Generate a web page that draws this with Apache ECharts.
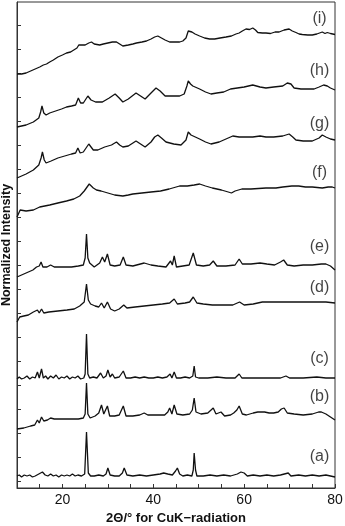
<!DOCTYPE html>
<html>
<head>
<meta charset="utf-8">
<script src="https://cdn.jsdelivr.net/npm/echarts@6/dist/echarts.min.js"></script>
<style>
  html, body { margin: 0; padding: 0; background: #fff; }
  #chart { width: 345px; height: 526px; }
</style>
</head>
<body>
<div id="chart"></div>
<script>
// XRD patterns, stacked; values are normalized intensity incl. stacking offset
const traceA = [[10.0,12],[10.5,13],[11,11],[11.6,13],[12.2,12],[12.8,13],[13.4,11],[14,12],[14.8,14],[15.6,16],[16.2,13],[16.8,12],[17.4,14],[18,12],[18.6,13],[19.2,11],[19.8,13],[20.4,12],[21,13],[21.6,12],[22.2,14],[22.8,12],[23.4,13],[24.2,12],[24.9,14],[25.3,56],[25.7,15],[26.2,12],[27,12],[28,13],[29,12],[29.6,14],[30.0,20],[30.5,13],[31.5,12],[32.5,12],[33.2,15],[33.6,20],[34.2,13],[35.5,12],[37,13],[38.5,12],[40,13],[41.5,14],[42.3,15],[43.2,14],[44.2,13],[44.9,17],[45.3,20],[45.8,14],[46.5,12],[47.5,13],[48.5,12],[48.8,18],[49.0,35],[49.3,18],[49.6,12],[51,12],[52.5,13],[54,12],[55.5,13],[57,12],[58.5,14],[59.3,16],[60,15],[60.7,12],[62,13],[63.5,12],[65,13],[66.5,12],[68,13],[69.7,15],[70.3,12],[72,13],[73.5,12],[75,13],[76.5,12],[78,13],[79,12],[80,11]];
const traceB = [[10.0,59],[11.5,60],[13,62],[13.9,63],[14.5,68],[14.9,65],[15.4,71],[15.9,67],[16.7,68],[17.4,70],[18.2,69],[20,69],[22,69],[23.5,69],[24.6,70],[25.0,74],[25.3,105],[25.6,74],[26.1,70],[27.2,72],[28.0,75],[28.6,83],[29.1,74],[29.5,75],[29.9,82],[30.4,72],[31.5,72],[32.5,73],[33.4,82],[34,72],[35.5,72],[37,73],[38,75],[38.8,73],[40.5,73],[42.5,73],[43.2,76],[43.6,80],[44.1,74],[44.6,83],[45.2,74],[46.5,73],[48,74],[48.6,78],[49.0,90],[49.4,76],[50.5,74],[52,75],[53.2,80],[53.8,74],[54.9,76],[55.7,72],[57,73],[57.7,75],[58.4,78],[58.9,82],[59.6,74],[60.5,73],[62,75],[63,76],[64.5,76],[65.5,75],[66.5,75],[67.5,76],[68.2,79],[68.8,80],[69.5,75],[71,74],[73,73],[75,74],[76.4,76],[77,76],[78,74],[79,71],[80,68]];
const traceC = [[10.0,109],[10.5,111],[11,109],[11.6,110],[12.2,112],[12.8,109],[13.4,111],[14.0,110],[14.5,116],[14.9,110],[15.4,119],[15.8,110],[16.3,112],[16.8,109],[17.4,112],[18,110],[18.6,113],[19.2,109],[19.8,111],[20.4,110],[21,112],[21.6,109],[22.2,111],[22.8,110],[23.4,112],[24,109],[24.7,110],[25.0,114],[25.3,154],[25.6,114],[26,110],[26.8,111],[27.6,110],[28.4,115],[29,110],[29.6,112],[30.0,118],[30.5,111],[31,114],[31.5,110],[32.5,111],[33.4,117],[34,110],[35,110],[36,111],[37,110],[38,111],[39,110],[40,110],[41,111],[42,110],[43,111],[43.7,114],[44.1,110],[44.6,116],[45.1,110],[46,110],[47,111],[48,110],[48.7,112],[49.0,122],[49.3,111],[50,110],[52,110],[54,111],[56,110],[58,110],[58.9,114],[59.5,110],[62,110],[65,110],[68,110],[69.2,112],[70,110],[73,110],[76,111],[78,110],[80,110]];
const traceD = [[10.0,166],[10.6,171],[11.5,172],[12.5,173],[13.6,176],[14.5,178],[14.9,175],[15.4,179],[15.9,175],[17,176],[19,177],[21,178],[22.6,179],[23.8,182],[24.8,186],[25.3,204],[25.7,188],[26.2,184],[27.2,182],[28,181],[28.6,185],[29.2,180],[29.9,186],[30.6,179],[31.5,177],[32.5,179],[33.5,183],[34.2,180],[36,181],[38,182],[40,183],[42,184],[43.6,185],[44.6,189],[45.3,184],[47,185],[48,186],[48.8,191],[49.6,185],[51,184],[53,183],[55,183],[57.5,183],[59,186],[60,183],[62,184],[64,186],[66,186],[68,186],[70,186],[72,186],[74,186],[76,186],[78,186],[80,185]];
const traceE = [[10.0,211],[11.5,214],[12.5,216],[13.5,218],[14.3,221],[14.9,222],[15.3,226],[15.7,221],[16.6,221],[17.4,223],[18.2,221],[20,221],[22,221],[23.5,222],[24.6,223],[25.0,230],[25.3,254],[25.6,230],[26.0,225],[27,221],[28.2,225],[28.8,231],[29.3,226],[29.9,234],[30.5,223],[31.5,222],[32.7,223],[33.4,231],[34,223],[35.5,222],[38,225],[39.5,223],[41,222],[42.8,221],[43.8,227],[44.2,223],[44.6,232],[45.1,221],[46.5,222],[47.9,223],[48.8,235],[49.5,223],[51,222],[52.4,223],[53.2,227],[54,222],[56,222],[58,223],[58.9,229],[59.6,224],[61.5,224],[63.5,225],[65,224],[66.7,223],[68,226],[68.7,228],[69.5,223],[71,222],[73,223],[75,223],[77,224],[78,224],[79,222],[80,218]];
const traceF = [[10.0,271],[10.7,278],[12,277],[13.6,278],[15,281],[17.2,283],[19,285],[20.9,287],[22.5,289],[23.8,292],[24.8,297],[25.9,304],[26.8,300],[27.5,298],[28.5,297],[30,295],[31.5,293],[33.3,292],[34.5,293],[35.5,294],[37.5,295],[39.5,296],[41.6,297],[43.5,299],[45.8,302],[47.5,302],[49,303],[50.2,304],[51.5,302],[53,300],[55,298],[56.5,296],[57.2,295],[58,297],[59.5,299],[61.5,299],[64.8,300],[67,300],[68.5,301],[70.5,302],[72,302],[73.5,301],[75,301],[77.2,300],[78.5,301],[79.4,301],[80,300]];
const traceG = [[10.0,310],[11,312],[12,314],[13.6,318],[14.8,323],[15.3,330],[15.6,336],[16,328],[16.4,325],[17.5,327],[19,330],[20.5,332],[22,334],[22.9,335],[23.4,340],[23.9,335],[24.6,336],[25.8,344],[26.8,338],[27.8,338],[29.3,341],[30.8,343],[31.9,346],[32.6,343],[33.3,341],[34.5,342],[36.2,347],[37.2,344],[38.2,341],[39.5,346],[40.3,351],[41,353],[41.8,350],[42.8,346],[44.5,344],[46.1,343],[47.2,348],[47.7,356],[48.3,353],[48.7,351],[50.2,349],[51.5,346],[52.7,344],[54.5,346],[56,349],[57.5,352],[58.9,351],[60.5,351],[61.9,351],[63.5,352],[64.8,351],[66.5,351],[68.5,352],[69.9,354],[70.7,351],[71.4,348],[73,347],[75,347],[76.5,350],[77.2,353],[78,351],[79,349],[80,348]];
const traceH = [[10.0,361],[11,362],[12,363],[13.6,366],[14.8,370],[15.2,376],[15.5,382],[15.9,375],[16.4,373],[17.2,375],[18.5,377],[19.8,379],[20.9,381],[22,382],[22.9,383],[23.5,390],[24,385],[24.6,385],[25.6,392],[26.3,388],[27.3,386],[28.8,386],[30.3,390],[31.6,394],[32.5,390],[33.3,386],[34.5,389],[36.2,395],[37.2,392],[38.2,389],[39.5,395],[40.6,400],[41.5,397],[42.6,392],[44,392],[45.8,392],[46.8,394],[47.4,402],[47.7,407],[48.2,404],[48.7,402],[50.2,399],[51.5,396],[52.7,394],[54,395],[55.5,396],[57,399],[58.5,400],[60,401],[61.9,403],[63.5,401],[64.8,400],[66.5,401],[68.5,402],[69.5,405],[70.3,404],[71,400],[72.5,399],[74,399],[75.4,399],[76.5,401],[77.5,403],[78.3,402],[79,400],[80,398]];
const traceI = [[10.0,414],[11,414],[12,415],[13,417],[14,419],[15,421],[15.8,423],[16.5,424],[17.2,426],[18,428],[19,431],[20,433],[20.9,435],[21.8,436],[22.5,438],[23.2,440],[23.6,443],[24,441],[25,443],[25.8,445],[26.4,446],[27,444],[28.2,443],[29,444],[30,445],[31,446],[31.9,446],[32.6,444],[33.3,442],[34.5,443],[35.5,444],[36.3,445],[37.5,446],[38.5,447],[39.5,449],[40.3,451],[41,452],[41.8,450],[42.6,448],[43.6,446],[44.7,446],[45.8,446],[46.5,447],[47.2,450],[47.7,457],[48.0,459],[48.5,456],[49.2,454],[50.2,452],[51.3,450],[52.4,449],[53.5,449],[54.7,450],[56,451],[57.2,452],[58.2,454],[58.9,455],[59.6,457],[60.4,459],[61.2,458.5],[61.9,460],[62.5,458],[63,455.5],[64,455],[64.8,455],[65.8,454.5],[66.8,456],[67.7,456],[68.8,458],[69.9,459],[70.6,457],[71.4,455.5],[72.1,454],[72.8,453.5],[74,453],[75,453],[76,454],[77.2,456],[77.8,454.5],[78.3,455.5],[79,454.5],[79.4,454],[80,453.5]];

const traces = [traceA, traceB, traceC, traceD, traceE, traceF, traceG, traceH, traceI];
const traceNames = ['(a)', '(b)', '(c)', '(d)', '(e)', '(f)', '(g)', '(h)', '(i)'];
// where each tag sits, in data units
const tagX = 76.6;
const tagY = [31, 91, 129, 200, 241, 315, 364, 417, 469];
const xTicks = [20, 40, 60, 80];

const font = '"Liberation Sans", Arial, sans-serif';

// left ticks, one every 24 units
const yTickValues = [];
for (let v = 7; v <= 463; v += 24) yTickValues.push(v);

const chart = echarts.init(document.getElementById('chart'), null, { renderer: 'canvas' });

const series = traces.map((t, i) => ({
  name: traceNames[i],
  type: 'line',
  data: t,
  showSymbol: false,
  symbol: 'none',
  lineStyle: { color: '#111', width: 1.3 },
  silent: true
}));

series.push({
  type: 'scatter',
  symbolSize: 0,
  data: tagY.map((y, i) => ({ value: [tagX, y], name: traceNames[i] })),
  label: {
    show: true,
    position: 'inside',
    formatter: p => p.name,
    color: '#111',
    fontSize: 16,
    fontFamily: font
  },
  silent: true
});

chart.setOption({
  animation: false,
  backgroundColor: '#fff',
  grid: {
    left: 17, right: 10, top: 2, bottom: 38,
    show: true, borderColor: '#333', borderWidth: 1,
    containLabel: false, outerBoundsMode: 'none'
  },
  xAxis: {
    type: 'value',
    min: 10, max: 80, interval: 5,
    name: '2Θ/° for CuK−radiation',
    nameLocation: 'middle',
    nameGap: 24,
    nameTextStyle: { fontFamily: font, fontWeight: 'bold', fontSize: 13, color: '#111' },
    axisLine: { show: true, lineStyle: { color: '#333', width: 1 } },
    axisTick: { show: true, inside: true, length: 4, lineStyle: { color: '#333' } },
    axisLabel: {
      margin: 5,
      fontFamily: font, fontSize: 14, color: '#111',
      formatter: v => (xTicks.indexOf(v) >= 0 ? String(v) : '')
    },
    splitLine: { show: false }
  },
  yAxis: {
    type: 'value',
    min: 0, max: 486,
    name: 'Normalized Intensity',
    nameLocation: 'middle',
    nameGap: 4,
    nameTextStyle: { fontFamily: font, fontWeight: 'bold', fontSize: 12.5, color: '#111' },
    axisLine: { show: true, lineStyle: { color: '#333', width: 1 } },
    axisTick: { show: true, inside: true, length: 4, customValues: yTickValues, lineStyle: { color: '#333' } },
    axisLabel: { show: false },
    splitLine: { show: false }
  },
  series: series
});
</script>
</body>
</html>
